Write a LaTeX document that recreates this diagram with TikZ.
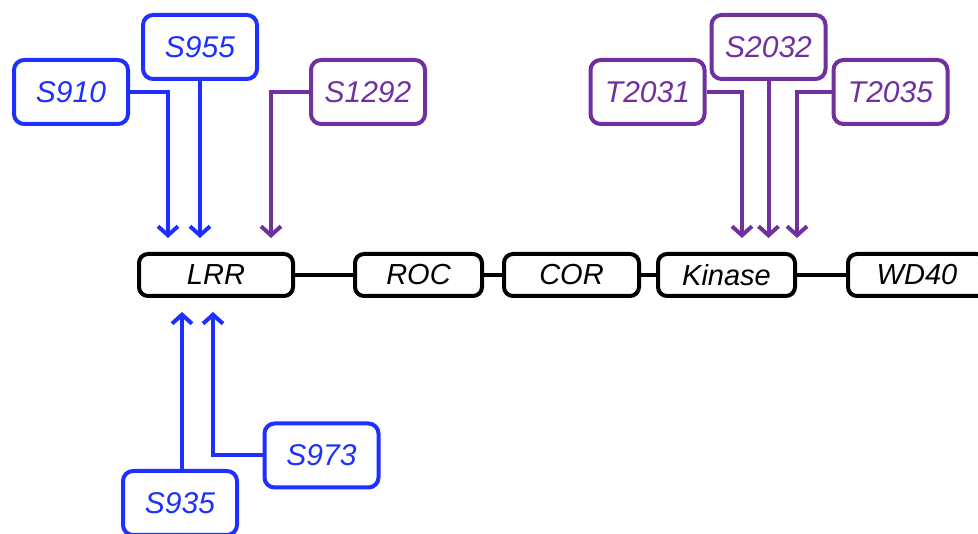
\documentclass[tikz,border=0pt]{standalone}
\usepackage{fontspec}
\setmainfont{Liberation Sans}
\usetikzlibrary{arrows.meta}
\definecolor{siteblue}{RGB}{30,48,255}
\definecolor{sitepurple}{RGB}{112,48,160}
\begin{document}
\begin{tikzpicture}[x=1pt, y=-1pt,
	domain/.style={draw=black, line width=4pt, rounded corners=9pt, minimum width=#1, minimum height=42pt, inner sep=0pt, font=\fontsize{29}{33}\selectfont\itshape},
	site/.style={draw=#1, text=#1, line width=4pt, rounded corners=10pt, minimum width=114pt, minimum height=64pt, inner sep=0pt, font=\fontsize{30}{34}\selectfont\itshape},
	link/.style={line width=4pt},
	hit/.style={line width=4pt, draw=#1, -{Straight Barb[length=9pt, width=20pt, line width=4pt]}}]
	\useasboundingbox (0,0) rectangle (978,534);
	\clip (0,0) rectangle (978,534);
	% domains
	\node[domain=154pt] (LRR)    at (216,275)   {LRR};
	\node[domain=127pt] (ROC)    at (418.5,275) {ROC};
	\node[domain=135pt] (COR)    at (571.5,275) {COR};
	\node[domain=137pt] (Kinase) at (726.5,275) {Kinase};
	\node[domain=138pt] (WD40)   at (917,275)   {WD40};
	\draw[link] (LRR) -- (ROC);
	\draw[link] (ROC) -- (COR);
	\draw[link] (COR) -- (Kinase);
	\draw[link] (Kinase) -- (WD40);
	% sites
	\node[site=siteblue]   (S910)  at (71,92)      {S910};
	\node[site=siteblue]   (S955)  at (200,47)     {S955};
	\node[site=sitepurple] (S1292) at (368,92)     {S1292};
	\node[site=sitepurple] (T2031) at (647.5,92)   {T2031};
	\node[site=sitepurple] (S2032) at (768.5,47)   {S2032};
	\node[site=sitepurple] (T2035) at (890.5,92)   {T2035};
	\node[site=siteblue]   (S973)  at (321.5,455.5) {S973};
	\node[site=siteblue]   (S935)  at (180,503)    {S935};
	% arrow ends
	\coordinate (t910)  at (168,238);
	\coordinate (t955)  at (200,238);
	\coordinate (t1292) at (271,238);
	\coordinate (t2031) at (742,238);
	\coordinate (t2032) at (768.5,238);
	\coordinate (t2035) at (797,238);
	\coordinate (t935)  at (182,312);
	\coordinate (t973)  at (213,312);
	\draw[hit=siteblue]   (S910.east)   -| (t910);
	\draw[hit=siteblue]   (S955.south)  -- (t955);
	\draw[hit=sitepurple] (S1292.west)  -| (t1292);
	\draw[hit=sitepurple] (T2031.east)  -| (t2031);
	\draw[hit=sitepurple] (S2032.south) -- (t2032);
	\draw[hit=sitepurple] (T2035.west)  -| (t2035);
	\draw[hit=siteblue]   (S935.north -| t935) -- (t935);
	\draw[hit=siteblue]   (S973.west)   -| (t973);
\end{tikzpicture}
\end{document}
